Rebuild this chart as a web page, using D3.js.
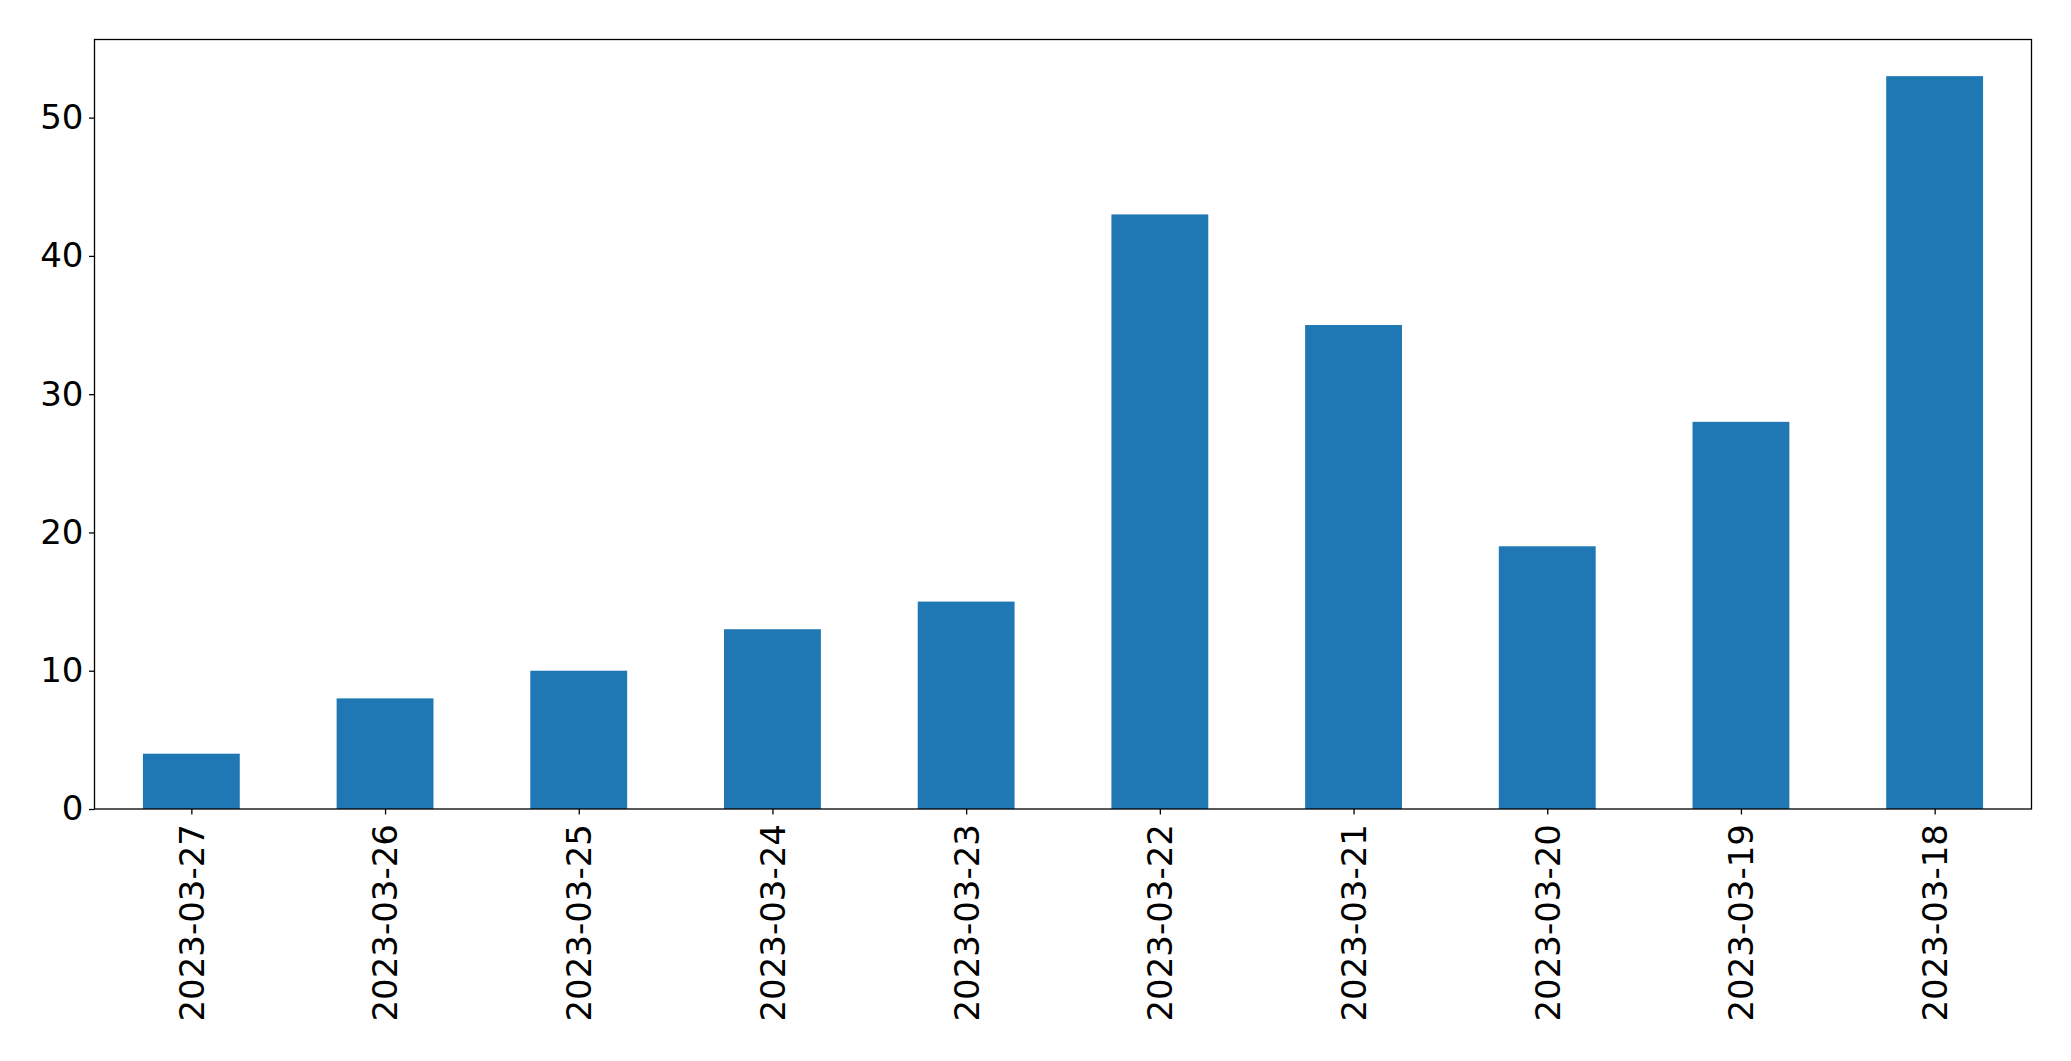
<!DOCTYPE html>
<meta charset="utf-8">
<script src="https://d3js.org/d3.v7.min.js"></script>
<style>
   body {
      background-color: white;
      margin: 0;
      padding: 0;
   }
   text {
      font-family: "DejaVu Sans", sans-serif;
   }
</style>

<body>
   <svg id="chart" width="2071" height="1061"></svg>
   <script>
      // data
      var dates = ["2023-03-27", "2023-03-26", "2023-03-25", "2023-03-24", "2023-03-23",
         "2023-03-22", "2023-03-21", "2023-03-20", "2023-03-19", "2023-03-18"];
      var counts = [4, 8, 10, 13, 15, 43, 35, 19, 28, 53];
      var yTicks = [0, 10, 20, 30, 40, 50];

      var svg = d3.select("#chart"),
         margin = { top: 39.5, right: 39.5, bottom: 252, left: 94.5 },
         width = +svg.attr("width") - margin.left - margin.right,
         height = +svg.attr("height") - margin.top - margin.bottom;

      var g = svg.append("g")
         .attr("transform", "translate(" + margin.left + "," + margin.top + ")");

      // pandas-style bar positions: bar i centered at i, xlim -0.5 .. n-0.5
      var x = d3.scaleLinear()
         .domain([-0.5, dates.length - 0.5])
         .range([0, width]);

      var y = d3.scaleLinear()
         .domain([0, d3.max(counts) * 1.05])
         .range([height, 0]);

      var barW = x(0.25) - x(-0.25);

      g.selectAll("rect.bar")
         .data(counts)
         .enter()
         .append("rect")
         .attr("class", "bar")
         .attr("x", function (d, i) { return x(i) - barW / 2 })
         .attr("y", function (d) { return y(d) })
         .attr("width", barW)
         .attr("height", function (d) { return height - y(d) })
         .attr("fill", "#1f77b4");

      // y axis
      var yAxis = g.append("g")
         .call(d3.axisLeft(y).tickValues(yTicks).tickSize(5.5).tickPadding(5.5));

      // x axis
      var xAxis = g.append("g")
         .attr("transform", "translate(0," + height + ")")
         .call(d3.axisBottom(x)
            .tickValues(d3.range(dates.length))
            .tickFormat(function (i) { return dates[i] })
            .tickSize(5.5));

      xAxis.selectAll("text")
         .attr("transform", "rotate(-90)")
         .attr("x", -15)
         .attr("y", 0)
         .attr("dy", "0.35em")
         .style("text-anchor", "end");

      [xAxis, yAxis].forEach(function (ax) {
         ax.select(".domain").remove();
         ax.selectAll("line").attr("stroke", "#000").attr("stroke-width", 1.3);
         ax.selectAll("text")
            .attr("fill", "#000")
            .style("font-size", "34px");
      });

      // frame
      g.append("rect")
         .attr("width", width)
         .attr("height", height)
         .attr("fill", "none")
         .attr("stroke", "#000")
         .attr("stroke-width", 1.3);
   </script>
</body>
